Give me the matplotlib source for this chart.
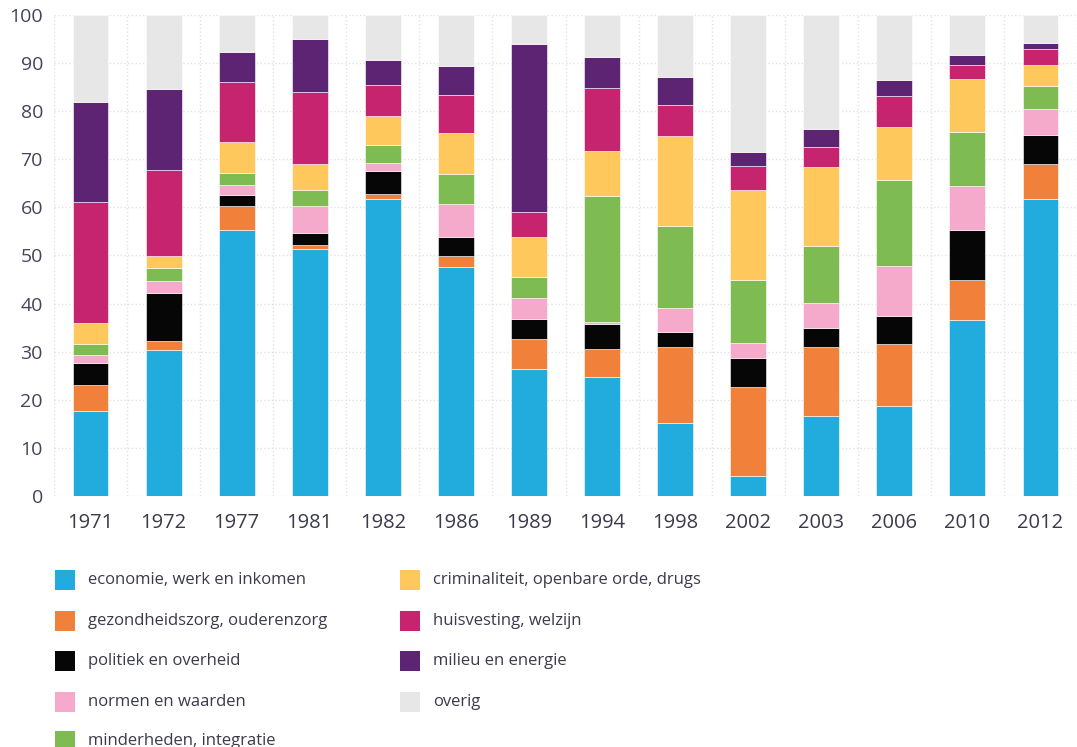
import matplotlib
matplotlib.use("Agg")
import matplotlib.pyplot as plt
import numpy as np
from matplotlib.patches import Rectangle

years = ["1971", "1972", "1977", "1981", "1982", "1986", "1989", "1994",
         "1998", "2002", "2003", "2006", "2010", "2012"]

labels = ["economie, werk en inkomen", "gezondheidszorg, ouderenzorg",
          "politiek en overheid", "normen en waarden", "minderheden, integratie",
          "criminaliteit, openbare orde, drugs", "huisvesting, welzijn",
          "milieu en energie", "overig"]

colors = ["#22ACDE", "#F1813A", "#060606", "#F5AACB", "#7EBC53",
          "#FEC85C", "#C7246F", "#5E2474", "#E7E7E8"]

economie = [17.7, 30.4, 55.2, 51.3, 61.7, 47.7, 26.3, 24.7, 15.2, 4.2, 16.6, 18.7, 36.6, 61.7]
gezondheid = [5.4, 1.9, 5.0, 0.9, 1.0, 2.1, 6.3, 5.8, 15.8, 18.4, 14.4, 12.8, 8.3, 7.3]
politiek = [4.5, 9.8, 2.4, 2.4, 4.9, 4.0, 4.3, 5.3, 3.0, 6.0, 4.0, 5.9, 10.3, 6.1]
normen = [1.7, 2.7, 2.1, 5.6, 1.7, 7.0, 4.2, 0.3, 5.0, 3.3, 5.2, 10.5, 9.3, 5.3]
minderheden = [2.2, 2.5, 2.5, 3.4, 3.7, 6.1, 4.4, 26.2, 17.1, 13.1, 11.8, 17.9, 11.2, 4.9]
criminaliteit = [4.4, 2.6, 6.3, 5.4, 5.9, 8.5, 8.4, 9.5, 18.7, 18.6, 16.3, 11.0, 11.0, 4.4]
huisvesting = [25.2, 17.9, 12.6, 14.9, 6.5, 8.0, 5.2, 13.1, 6.5, 5.1, 4.3, 6.4, 2.9, 3.2]
milieu = [20.9, 16.8, 6.3, 11.1, 5.2, 6.1, 34.8, 6.3, 5.9, 2.9, 3.7, 3.2, 2.1, 1.2]

series = [economie, gezondheid, politiek, normen, minderheden,
          criminaliteit, huisvesting, milieu]

W, H = 1077, 747
fig = plt.figure(figsize=(W / 100, H / 100), dpi=100)
plt.rcParams['font.family'] = ['Open Sans', 'DejaVu Sans']

left_px, bottom_px, top_px = 54, 496, 15
spacing = 73.8
ax = fig.add_axes([left_px / W, (H - bottom_px) / H,
                   (W - left_px) / W, (bottom_px - top_px) / H])

x = np.arange(len(years))
bottom = np.zeros(len(years))
for vals, col in zip(series, colors[:-1]):
    v = np.array(vals)
    ax.bar(x, v, bottom=bottom, width=0.49, color=col, edgecolor='white',
           linewidth=0.4, zorder=3)
    bottom += v
overig = 100 - bottom
ax.bar(x, overig, bottom=bottom, width=0.49, color=colors[-1], edgecolor='white',
       linewidth=0.4, zorder=3)

ax.set_ylim(0, 100)
ax.set_xlim(-0.5, -0.5 + (W - left_px) / spacing)
ax.set_yticks(np.arange(0, 101, 10))
ax.set_xticks(x)
ax.set_xticklabels(years)
ax.set_xticks(np.arange(-0.5, 14, 1), minor=True)
ax.grid(axis='y', which='major', color='#E2E2E2', linestyle=':', linewidth=1.0, zorder=0)
ax.grid(axis='x', which='minor', color='#E2E2E2', linestyle=':', linewidth=1.0, zorder=0)
ax.grid(axis='x', which='major', visible=False)
for s in ax.spines.values():
    s.set_visible(False)
ax.tick_params(axis='both', which='both', length=0)
ax.tick_params(axis='y', labelsize=14, labelcolor='#44445A', pad=8)
ax.tick_params(axis='x', labelsize=14.5, labelcolor='#3A3A4A', pad=12)

# legend (two columns, drawn manually)
row_y = [580, 621, 661, 702, 741]
col_x = [55, 400]
for i, (lab, col) in enumerate(zip(labels, colors)):
    c = 0 if i < 5 else 1
    r = i if i < 5 else i - 5
    xs = col_x[c]
    yc = row_y[r]
    fig.patches.append(Rectangle((xs / W, (H - yc - 10) / H), 20 / W, 20 / H,
                                 transform=fig.transFigure, facecolor=col,
                                 edgecolor='none'))
    fig.text((xs + 33) / W, (H - yc) / H, lab, fontsize=12, color='#3A3A4A',
             va='center', ha='left')

fig.savefig("out.png", dpi=100)
